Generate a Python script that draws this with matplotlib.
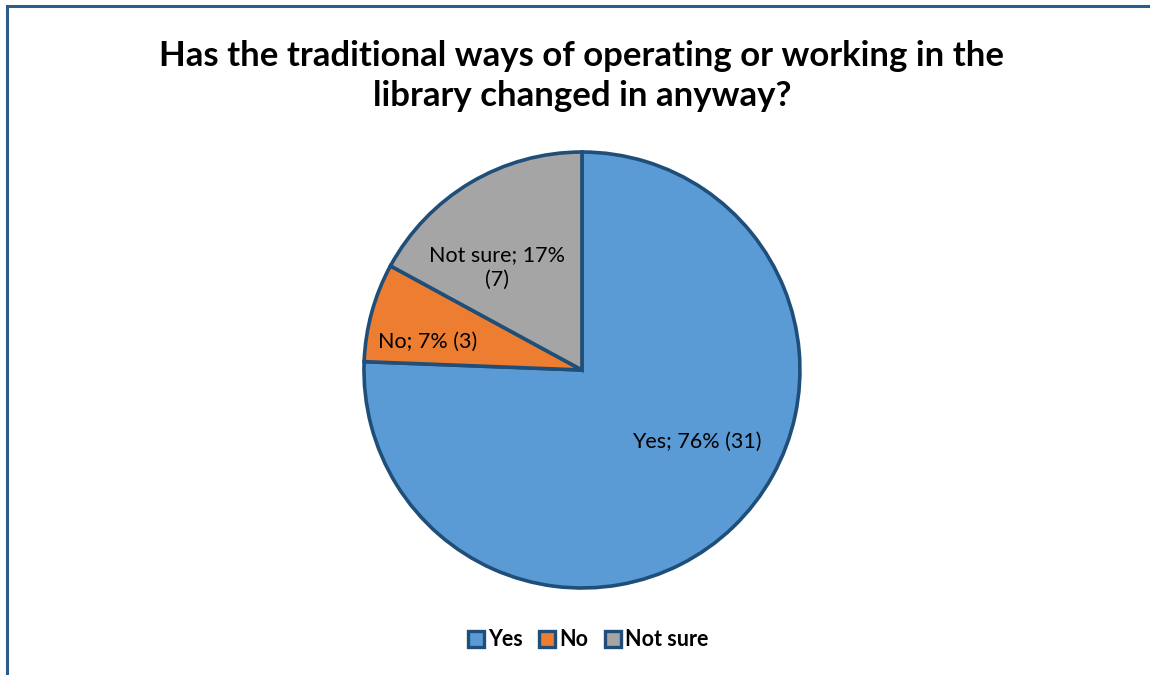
import numpy as np
import matplotlib
matplotlib.use("Agg")
import matplotlib.pyplot as plt
from matplotlib.patches import Rectangle
from matplotlib.lines import Line2D

plt.rcParams['font.family'] = ['Lato', 'DejaVu Sans']

categories = ["Yes", "No", "Not sure"]
counts = [31, 3, 7]
percent_labels = ["76%", "7%", "17%"]
colors = ["#5B9BD5", "#ED7D31", "#A5A5A5"]
edge_color = "#1F4E79"
title = "Has the traditional ways of operating or working in the\nlibrary changed in anyway?"

# label placement inside each wedge: (angle shift from wedge middle in deg, radius fraction)
label_place = [(14.0, 0.62), (5.0, 0.72), (9.0, 0.61)]

fig = plt.figure(figsize=(11.5, 6.75), dpi=100)

# outer chart frame (runs off the right and bottom edges)
fig.patches.append(Rectangle((0.0057, -0.05), 1.2, 1.0404, transform=fig.transFigure,
                             fill=False, edgecolor="#2E5C8A", linewidth=2.2, zorder=0))

fig.text(0.506, 0.888, title, ha="center", va="center", fontsize=25, fontweight="bold",
         linespacing=1.3, color="black")

ax = fig.add_axes([0.3165, 0.1289, 0.3791, 0.6459])
wedges, _ = ax.pie(counts, colors=colors, startangle=90, counterclock=False,
                   wedgeprops=dict(edgecolor=edge_color, linewidth=2.6))
ax.set_aspect("equal")
ax.set_xlim(-1.0, 1.0)
ax.set_ylim(-1.0, 1.0)

for w, cat, cnt, pct, (shift, rad) in zip(wedges, categories, counts, percent_labels, label_place):
    mid = np.deg2rad((w.theta1 + w.theta2) / 2 + shift)
    x, y = rad * np.cos(mid), rad * np.sin(mid)
    if cat == "Not sure":
        txt = f"{cat}; {pct}\n({cnt})"
    else:
        txt = f"{cat}; {pct} ({cnt})"
    ax.text(x, y, txt, ha="center", va="center", fontsize=15.5, linespacing=1.3, color="black")

handles = [Line2D([0], [0], marker="s", linestyle="none", markersize=11.5,
                  markerfacecolor=c, markeredgecolor=edge_color, markeredgewidth=2.4)
           for c in colors]
leg = fig.legend(handles, categories, loc="center", bbox_to_anchor=(0.511, 0.052),
                 ncol=3, frameon=False, handlelength=0.8, handletextpad=0.15,
                 columnspacing=0.75, prop=dict(size=15.5, weight="bold"))

fig.savefig("out.png", dpi=100)
